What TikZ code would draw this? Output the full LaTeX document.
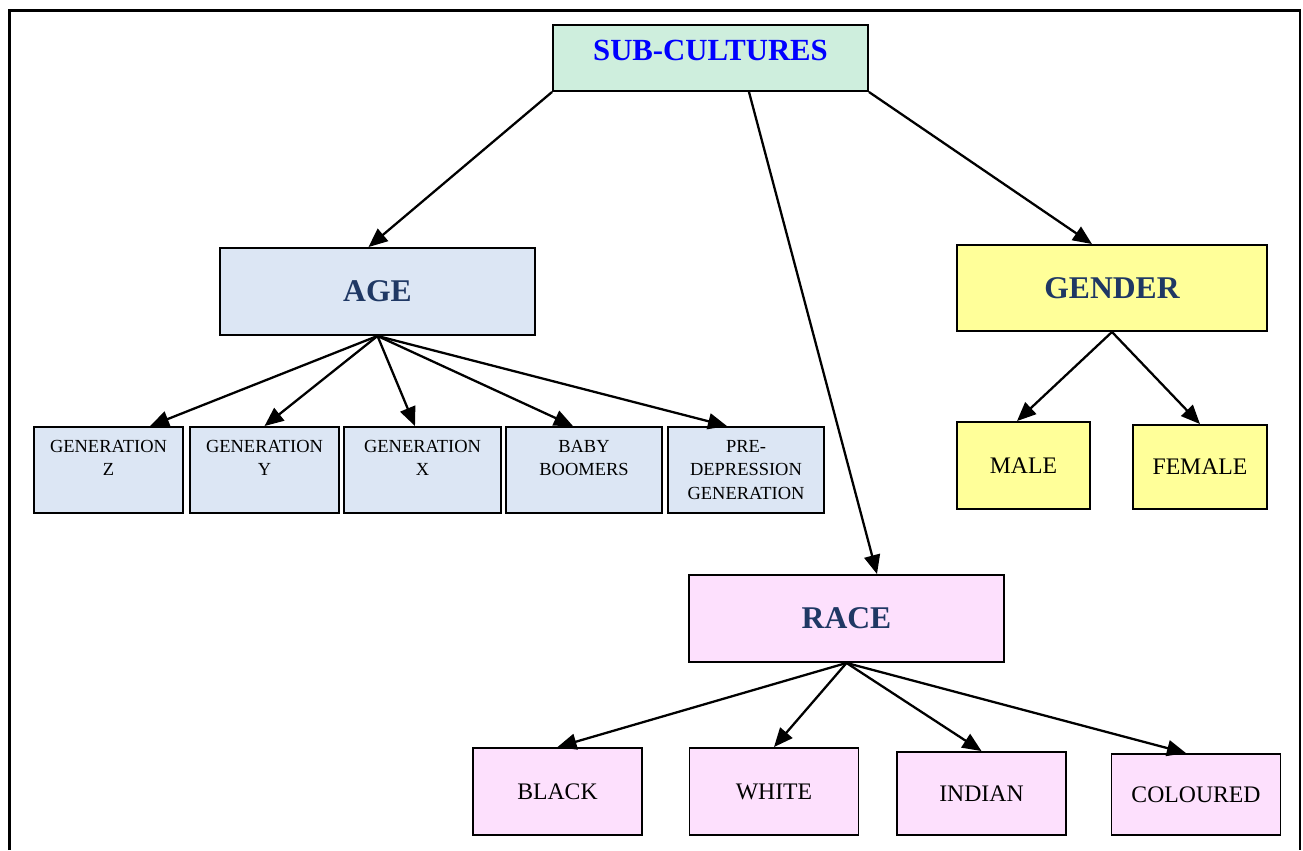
\documentclass[tikz,border=0pt]{standalone}
\usepackage{fontspec}
\setmainfont{Liberation Serif}
\usetikzlibrary{arrows.meta}
\definecolor{subgreen}{HTML}{CEEEDD}
\definecolor{ageblue}{HTML}{DCE6F4}
\definecolor{genderyellow}{HTML}{FFFF99}
\definecolor{racepink}{HTML}{FDE0FD}
\definecolor{titlenavy}{HTML}{1F3864}
\newcommand{\boxlines}[1]{\begin{tabular}[t]{@{}c@{}}#1\end{tabular}}
\begin{document}
\begin{tikzpicture}[x=0.02cm, y=-0.02cm,
		box/.style={rectangle, draw, line width=1.1pt, inner xsep=2pt},
		catbox/.style={box, minimum width=6.3cm, minimum height=1.74cm, text=titlenavy, font=\fontsize{18}{22}\selectfont\bfseries},
		genbox/.style={box, fill=ageblue, minimum width=3.12cm, inner ysep=0pt, text height=0.5cm, text depth=1.22cm, font=\fontsize{10.5}{13.6}\selectfont},
		leafbox/.style={box, minimum width=3.38cm, minimum height=1.7cm, font=\fontsize{13.5}{16}\selectfont},
		arr/.style={line width=1.3pt, -{Triangle[length=3.8mm,width=3.2mm]}}]
		\useasboundingbox (0,0) rectangle (1303,850);
		\draw[line width=1.5pt] (9.5,850) -- (9.5,10.5) -- (1300,10.5) -- (1300,850);

		\node[box, fill=subgreen, minimum width=6.3cm, inner ysep=0pt, text height=0.7cm, text depth=0.62cm, text=blue, font=\fontsize{17.5}{20}\selectfont\bfseries] (sub) at (710.5,58) {SUB-CULTURES};

		\node[catbox, fill=ageblue] (age) at (377.5,291.5) {AGE};
		\node[catbox, fill=genderyellow, minimum width=6.2cm, minimum height=1.72cm] (gender) at (1112,288) {GENDER};
		\node[catbox, fill=racepink] (race) at (846.5,618.5) {RACE};

		\node[genbox, minimum width=2.98cm] (genz) at (108.5,470) {\boxlines{GENERATION\\Z}};
		\node[genbox, minimum width=2.98cm] (geny) at (264.5,470) {\boxlines{GENERATION\\Y}};
		\node[genbox, minimum width=3.14cm] (genx) at (422.5,470) {\boxlines{GENERATION\\X}};
		\node[genbox] (boomers) at (584,470) {\boxlines{BABY\\BOOMERS}};
		\node[genbox] (predep) at (746,470) {\boxlines{PRE-\\DEPRESSION\\GENERATION}};

		\node[leafbox, fill=genderyellow, minimum width=2.66cm, minimum height=1.74cm] (male) at (1023.5,465.5) {MALE};
		\node[leafbox, fill=genderyellow, minimum width=2.68cm, minimum height=1.68cm] (female) at (1200,467) {FEMALE};

		\node[leafbox, fill=racepink, minimum height=1.74cm] (black) at (557.5,791.5) {BLACK};
		\node[leafbox, fill=racepink, minimum height=1.74cm] (white) at (774,791.5) {WHITE};
		\node[leafbox, fill=racepink, minimum height=1.66cm] (indian) at (981.5,793.5) {INDIAN};
		\node[leafbox, fill=racepink, minimum height=1.62cm] (coloured) at (1196,794.5) {COLOURED};

		\draw[arr] (sub.south west) -- ([xshift=-0.18cm]age.north);
		\draw[arr] ([xshift=0.77cm]sub.south) -- ([xshift=0.61cm]race.north);
		\draw[arr] (sub.south east) -- ([xshift=-0.4cm]gender.north);

		\draw[arr] (age.south) -- ([xshift=0.83cm]genz.north);
		\draw[arr] (age.south) -- (geny.north);
		\draw[arr] (age.south) -- ([xshift=-0.15cm]genx.north);
		\draw[arr] (age.south) -- ([xshift=-0.22cm]boomers.north);
		\draw[arr] (age.south) -- ([xshift=-0.38cm]predep.north);

		\draw[arr] (gender.south) -- ([xshift=-0.13cm]male.north);
		\draw[arr] (gender.south) -- (female.north);

		\draw[arr] (race.south) -- (black.north);
		\draw[arr] (race.south) -- (white.north);
		\draw[arr] (race.south) -- (indian.north);
		\draw[arr] (race.south) -- ([xshift=-0.2cm]coloured.north);
	\end{tikzpicture}
\end{document}
